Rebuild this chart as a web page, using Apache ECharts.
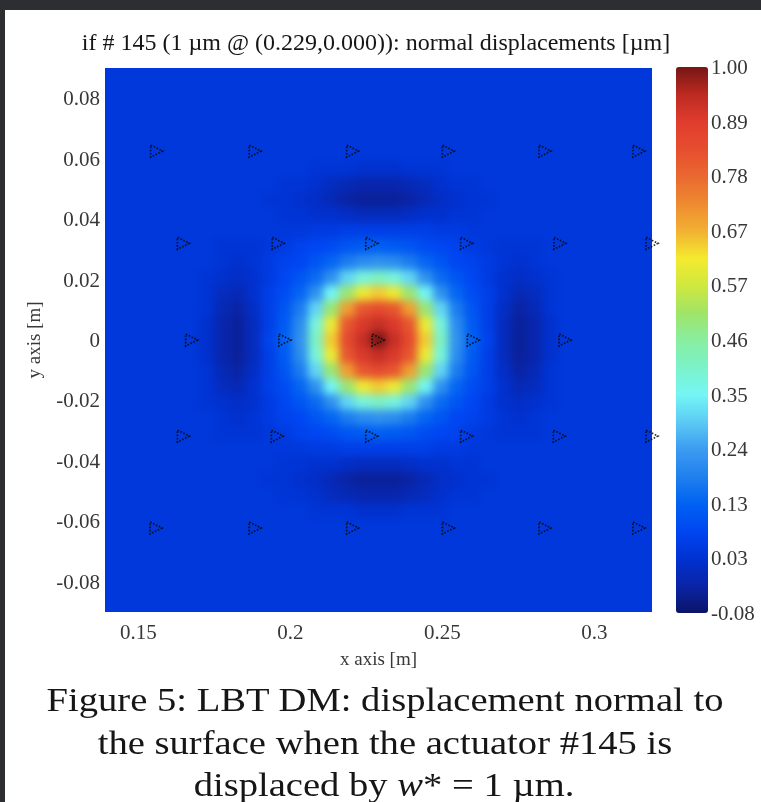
<!DOCTYPE html>
<html><head><meta charset="utf-8">
<script src="https://cdn.jsdelivr.net/npm/echarts@6/dist/echarts.min.js"></script>
<style>
html,body{margin:0;padding:0;width:761px;height:802px;background:#2d2e32;overflow:hidden}
#panel{position:absolute;left:5px;top:10px;width:756px;height:792px;background:#ffffff}
#heatWrap{position:absolute;left:105px;top:68px;width:547px;height:544px;overflow:hidden}
#heat{position:absolute;left:-24px;top:-24px;width:595px;height:592px;filter:blur(4.5px)}
#chart{position:absolute;left:0;top:0;width:761px;height:802px}
</style></head><body><div id="panel"></div><div id="heatWrap"><div id="heat"></div></div><div id="chart"></div>
<script>
// ---- tick labels ----
const xTicks = [0.15, 0.2, 0.25, 0.3];
const yTicks = [-0.08, -0.06, -0.04, -0.02, 0, 0.02, 0.04, 0.06, 0.08];
const cbLabels = ['-0.08', '0.03', '0.13', '0.24', '0.35', '0.46', '0.57', '0.67', '0.78', '0.89', '1.00'];

// ---- heatmap cell centres (x left->right, y top->bottom) ----
const xCells = [0.1416,0.1467,0.1519,0.1570,0.1621,0.1673,0.1724,0.1776,0.1827,0.1879,0.1930,0.1981,0.2033,0.2084,0.2136,0.2187,0.2239,0.2290,0.2341,0.2393,0.2444,0.2496,0.2547,0.2599,0.2650,0.2701,0.2753,0.2804,0.2856,0.2907,0.2959,0.3010,0.3061,0.3113,0.3164];
const yCells = [0.0874,0.0823,0.0771,0.0720,0.0669,0.0617,0.0566,0.0514,0.0463,0.0411,0.0360,0.0309,0.0257,0.0206,0.0154,0.0103,0.0051,0,-0.0051,-0.0103,-0.0154,-0.0206,-0.0257,-0.0309,-0.0360,-0.0411,-0.0463,-0.0514,-0.0566,-0.0617,-0.0669,-0.0720,-0.0771,-0.0823,-0.0874];

// ---- normal displacement [um], rows top->bottom, columns left->right ----
const zGrid = [
[.04,.04,.04,.04,.04,.04,.04,.04,.04,.04,.04,.04,.04,.04,.04,.04,.04,.04,.04,.04,.04,.04,.04,.04,.04,.04,.04,.04,.04,.04,.04,.04,.04,.04,.04],
[.04,.04,.04,.04,.04,.04,.04,.04,.04,.04,.04,.04,.04,.04,.04,.04,.04,.04,.04,.04,.04,.04,.04,.04,.04,.04,.04,.04,.04,.04,.04,.04,.04,.04,.04],
[.04,.04,.04,.04,.04,.04,.04,.04,.04,.04,.04,.04,.04,.04,.04,.04,.04,.04,.04,.04,.04,.04,.04,.04,.04,.04,.04,.04,.04,.04,.04,.04,.04,.04,.04],
[.04,.04,.04,.04,.04,.04,.04,.04,.04,.04,.04,.04,.04,.04,.04,.04,.04,.04,.04,.04,.04,.04,.04,.04,.04,.04,.04,.04,.04,.04,.04,.04,.04,.04,.04],
[.04,.04,.04,.04,.04,.04,.04,.04,.04,.04,.04,.04,.04,.04,.04,.04,.04,.04,.04,.04,.04,.04,.04,.04,.04,.04,.04,.04,.04,.04,.04,.04,.04,.04,.04],
[.04,.04,.04,.04,.04,.04,.04,.04,.04,.04,.04,.04,.04,.04,.04,.04,.04,.04,.04,.04,.04,.04,.04,.04,.04,.04,.04,.04,.04,.04,.04,.04,.04,.04,.04],
[.04,.04,.04,.04,.04,.04,.04,.04,.04,.04,.04,.04,.04,.03,.03,.03,.02,.02,.02,.03,.03,.03,.04,.04,.04,.04,.04,.04,.04,.04,.04,.04,.04,.04,.04],
[.04,.04,.04,.04,.04,.04,.04,.04,.04,.04,.04,.03,.03,.02,0,-.01,-.02,-.02,-.02,-.01,0,.02,.03,.03,.04,.04,.04,.04,.04,.04,.04,.04,.04,.04,.04],
[.04,.04,.04,.04,.04,.04,.04,.04,.04,.04,.03,.03,.02,.01,-.01,-.03,-.04,-.04,-.04,-.03,-.01,.01,.02,.03,.03,.04,.04,.04,.04,.04,.04,.04,.04,.04,.04],
[.04,.04,.04,.04,.04,.04,.04,.04,.04,.04,.04,.03,.03,.02,.02,.01,0,0,0,.01,.02,.02,.03,.03,.04,.04,.04,.04,.04,.04,.04,.04,.04,.04,.04],
[.04,.04,.04,.04,.04,.04,.04,.04,.04,.04,.04,.04,.04,.05,.05,.06,.06,.06,.06,.06,.06,.05,.05,.04,.04,.04,.04,.04,.04,.04,.04,.04,.04,.04,.04],
[.04,.04,.04,.04,.04,.04,.04,.03,.03,.03,.04,.05,.07,.08,.09,.11,.12,.13,.12,.11,.09,.08,.07,.05,.04,.03,.03,.03,.04,.04,.04,.04,.04,.04,.04],
[.04,.04,.04,.04,.04,.04,.04,.03,.02,.03,.05,.07,.08,.11,.14,.18,.21,.22,.21,.18,.14,.11,.08,.07,.05,.03,.02,.03,.04,.04,.04,.04,.04,.04,.04],
[.04,.04,.04,.04,.04,.04,.03,.02,.01,.02,.05,.08,.11,.15,.22,.31,.38,.41,.38,.31,.22,.15,.11,.08,.05,.02,.01,.02,.03,.04,.04,.04,.04,.04,.04],
[.04,.04,.04,.04,.04,.04,.03,0,-.01,.02,.06,.09,.14,.22,.35,.50,.61,.65,.61,.50,.35,.22,.14,.09,.06,.02,-.01,0,.03,.04,.04,.04,.04,.04,.04],
[.04,.04,.04,.04,.04,.04,.03,-.01,-.03,.01,.06,.11,.18,.31,.50,.70,.82,.85,.82,.70,.50,.31,.18,.11,.06,.01,-.03,-.01,.03,.04,.04,.04,.04,.04,.04],
[.04,.04,.04,.04,.04,.04,.02,-.02,-.04,0,.06,.12,.21,.38,.61,.82,.90,.93,.90,.82,.61,.38,.21,.12,.06,0,-.04,-.02,.02,.04,.04,.04,.04,.04,.04],
[.04,.04,.04,.04,.04,.04,.02,-.02,-.04,0,.07,.13,.22,.41,.65,.85,.93,1.00,.93,.85,.65,.41,.22,.13,.07,0,-.04,-.02,.02,.04,.04,.04,.04,.04,.04],
[.04,.04,.04,.04,.04,.04,.02,-.02,-.04,0,.06,.12,.21,.38,.61,.82,.90,.93,.90,.82,.61,.38,.21,.12,.06,0,-.04,-.02,.02,.04,.04,.04,.04,.04,.04],
[.04,.04,.04,.04,.04,.04,.03,-.01,-.03,.01,.06,.11,.18,.31,.50,.70,.82,.85,.82,.70,.50,.31,.18,.11,.06,.01,-.03,-.01,.03,.04,.04,.04,.04,.04,.04],
[.04,.04,.04,.04,.04,.04,.03,0,-.01,.02,.06,.09,.14,.22,.35,.50,.61,.65,.61,.50,.35,.22,.14,.09,.06,.02,-.01,0,.03,.04,.04,.04,.04,.04,.04],
[.04,.04,.04,.04,.04,.04,.03,.02,.01,.02,.05,.08,.11,.15,.22,.31,.38,.41,.38,.31,.22,.15,.11,.08,.05,.02,.01,.02,.03,.04,.04,.04,.04,.04,.04],
[.04,.04,.04,.04,.04,.04,.04,.03,.02,.03,.05,.07,.08,.11,.14,.18,.21,.22,.21,.18,.14,.11,.08,.07,.05,.03,.02,.03,.04,.04,.04,.04,.04,.04,.04],
[.04,.04,.04,.04,.04,.04,.04,.03,.03,.03,.04,.05,.07,.08,.09,.11,.12,.13,.12,.11,.09,.08,.07,.05,.04,.03,.03,.03,.04,.04,.04,.04,.04,.04,.04],
[.04,.04,.04,.04,.04,.04,.04,.04,.04,.04,.04,.04,.04,.05,.05,.06,.06,.06,.06,.06,.06,.05,.05,.04,.04,.04,.04,.04,.04,.04,.04,.04,.04,.04,.04],
[.04,.04,.04,.04,.04,.04,.04,.04,.04,.04,.04,.03,.03,.02,.02,.01,0,0,0,.01,.02,.02,.03,.03,.04,.04,.04,.04,.04,.04,.04,.04,.04,.04,.04],
[.04,.04,.04,.04,.04,.04,.04,.04,.04,.04,.03,.03,.02,.01,-.01,-.03,-.04,-.04,-.04,-.03,-.01,.01,.02,.03,.03,.04,.04,.04,.04,.04,.04,.04,.04,.04,.04],
[.04,.04,.04,.04,.04,.04,.04,.04,.04,.04,.04,.03,.03,.02,0,-.01,-.02,-.02,-.02,-.01,0,.02,.03,.03,.04,.04,.04,.04,.04,.04,.04,.04,.04,.04,.04],
[.04,.04,.04,.04,.04,.04,.04,.04,.04,.04,.04,.04,.04,.03,.03,.03,.02,.02,.02,.03,.03,.03,.04,.04,.04,.04,.04,.04,.04,.04,.04,.04,.04,.04,.04],
[.04,.04,.04,.04,.04,.04,.04,.04,.04,.04,.04,.04,.04,.04,.04,.04,.04,.04,.04,.04,.04,.04,.04,.04,.04,.04,.04,.04,.04,.04,.04,.04,.04,.04,.04],
[.04,.04,.04,.04,.04,.04,.04,.04,.04,.04,.04,.04,.04,.04,.04,.04,.04,.04,.04,.04,.04,.04,.04,.04,.04,.04,.04,.04,.04,.04,.04,.04,.04,.04,.04],
[.04,.04,.04,.04,.04,.04,.04,.04,.04,.04,.04,.04,.04,.04,.04,.04,.04,.04,.04,.04,.04,.04,.04,.04,.04,.04,.04,.04,.04,.04,.04,.04,.04,.04,.04],
[.04,.04,.04,.04,.04,.04,.04,.04,.04,.04,.04,.04,.04,.04,.04,.04,.04,.04,.04,.04,.04,.04,.04,.04,.04,.04,.04,.04,.04,.04,.04,.04,.04,.04,.04],
[.04,.04,.04,.04,.04,.04,.04,.04,.04,.04,.04,.04,.04,.04,.04,.04,.04,.04,.04,.04,.04,.04,.04,.04,.04,.04,.04,.04,.04,.04,.04,.04,.04,.04,.04],
[.04,.04,.04,.04,.04,.04,.04,.04,.04,.04,.04,.04,.04,.04,.04,.04,.04,.04,.04,.04,.04,.04,.04,.04,.04,.04,.04,.04,.04,.04,.04,.04,.04,.04,.04]
];

// ---- actuator positions [m] ----
const actX = [0.1560,0.1884,0.2205,0.2520,0.2838,0.3147,
              0.1648,0.1960,0.2268,0.2580,0.2887,0.3190,
              0.1675,0.1982,0.2289,0.2602,0.2904,
              0.1648,0.1957,0.2268,0.2580,0.2885,0.3190,
              0.1558,0.1884,0.2205,0.2520,0.2838,0.3147];
const actY = [0.0625,0.0625,0.0625,0.0625,0.0625,0.0625,
              0.0320,0.0320,0.0320,0.0320,0.0320,0.0320,
              0,0,0,0,0,
              -0.0318,-0.0318,-0.0318,-0.0318,-0.0318,-0.0318,
              -0.0622,-0.0622,-0.0622,-0.0622,-0.0622,-0.0622];

// ---- colormap (jet, as photographed) ----
const jetColors = ['#0a1468','#0a24a6','#0032d2','#0046f2','#0062f2','#2080ee','#3c9cf0','#5ccaf4','#74f6f4','#7cf2c8','#88eea0','#a0e466','#d0e83e','#f4ea30','#f2b032','#ee8a30','#ea6830','#e64e2e','#e03c2e','#bc2a22','#761614'];
const fieldBackground = '#0038db';

const titleText = 'if # 145 (1 \u00b5m @ (0.229,0.000)): normal displacements [\u00b5m]';
const captionLines = ['Figure 5: LBT DM: displacement normal to', 'the surface when the actuator #145 is', 'displaced by {i|w}* = 1 \u00b5m.'];

const heatData = [];
zGrid.forEach((row, r) => row.forEach((v, c) => heatData.push([c, r, v])));
const actData = actX.map((x, i) => [x, actY[i]]);

const serif = '"Liberation Serif", "Times New Roman", serif';
const labelStyle = { fontFamily: serif, fontSize: 21, color: '#383838' };
const vmRange = { min: -0.0833, max: 1.0 };

// ---- field layer (smoothed, clipped to the plot box) ----
const heat = echarts.init(document.getElementById('heat'), null, { renderer: 'canvas' });
heat.setOption({
  backgroundColor: fieldBackground,
  animation: false,
  grid: { left: 24, top: 24, width: 547, height: 544, outerBoundsMode: 'none', containLabel: false },
  xAxis: { type: 'category', data: xCells, show: false },
  yAxis: { type: 'category', data: yCells, inverse: true, show: false },
  visualMap: { type: 'continuous', show: false, min: vmRange.min, max: vmRange.max, seriesIndex: 0, dimension: 2, inRange: { color: jetColors } },
  series: [{ type: 'heatmap', data: heatData, silent: true, itemStyle: { borderWidth: 0 }, emphasis: { disabled: true }, progressive: 0 }]
});

// ---- axes, markers, colour bar, texts ----
const chart = echarts.init(document.getElementById('chart'), null, { renderer: 'svg' });
chart.setOption({
  backgroundColor: 'transparent',
  animation: false,
  grid: [
    { left: 105, top: 68, width: 547, height: 544, outerBoundsMode: 'none', containLabel: false },
    { left: 676, top: 67, width: 32, height: 546, outerBoundsMode: 'none', containLabel: false }
  ],
  xAxis: [
    { type: 'value', gridIndex: 0, min: 0.139, max: 0.319, position: 'bottom',
      name: 'x axis [m]', nameLocation: 'middle', nameGap: 37,
      nameTextStyle: { fontFamily: serif, fontSize: 19, color: '#383838' },
      axisLine: { show: false, onZero: false }, splitLine: { show: false }, axisTick: { show: false },
      axisLabel: Object.assign({ customValues: xTicks, margin: 9, formatter: v => String(+v.toFixed(3)) }, labelStyle) },
    { type: 'value', gridIndex: 1, show: false, min: 0, max: 1 }
  ],
  yAxis: [
    { type: 'value', gridIndex: 0, min: -0.09, max: 0.09, position: 'left',
      name: 'y axis [m]', nameLocation: 'middle', nameGap: 62, nameRotate: 90,
      nameTextStyle: { fontFamily: serif, fontSize: 19, color: '#383838' },
      axisLine: { show: false, onZero: false }, splitLine: { show: false }, axisTick: { show: false },
      axisLabel: Object.assign({ customValues: yTicks, margin: 5, formatter: v => String(+v.toFixed(3)) }, labelStyle) },
    { type: 'category', gridIndex: 1, data: cbLabels, boundaryGap: false, position: 'right',
      axisLine: { show: false }, axisTick: { show: false }, splitLine: { show: false },
      axisLabel: Object.assign({ margin: 3, interval: 0 }, labelStyle) }
  ],
  visualMap: {
    type: 'continuous', min: vmRange.min, max: vmRange.max, seriesIndex: [], dimension: 2,
    calculable: false, hoverLink: false, realtime: false,
    left: 676, top: 67, itemWidth: 32, itemHeight: 546, padding: 0,
    inRange: { color: jetColors }, text: null, showLabel: false,
    textStyle: { color: 'transparent' }
  },
  series: [
    { type: 'scatter', xAxisIndex: 0, yAxisIndex: 0, data: actData, silent: true, clip: true,
      symbol: 'triangle', symbolRotate: -90, symbolSize: 12,
      itemStyle: { color: 'rgba(0,0,0,0)', borderColor: '#050505', borderWidth: 1.7, borderType: [1.6, 1.6] } }
  ],
  graphic: [
    { type: 'text', x: 376, y: 42, silent: true,
      style: { text: titleText, fontFamily: serif, fontSize: 24, fill: '#161616', textAlign: 'center', textVerticalAlign: 'middle' } },
    { type: 'text', x: 385, y: 700, scaleX: 1.17, silent: true,
      style: { text: captionLines[0], fontFamily: serif, fontSize: 33, fill: '#161616', textAlign: 'center', textVerticalAlign: 'middle' } },
    { type: 'text', x: 385, y: 743, scaleX: 1.17, silent: true,
      style: { text: captionLines[1], fontFamily: serif, fontSize: 33, fill: '#161616', textAlign: 'center', textVerticalAlign: 'middle' } },
    { type: 'text', x: 384, y: 785, scaleX: 1.17, silent: true,
      style: { text: captionLines[2], fontFamily: serif, fontSize: 33, fill: '#161616', textAlign: 'center', textVerticalAlign: 'middle',
        rich: { i: { fontFamily: serif, fontSize: 33, fontStyle: 'italic', fill: '#161616' } } } }
  ]
});
</script></body></html>
